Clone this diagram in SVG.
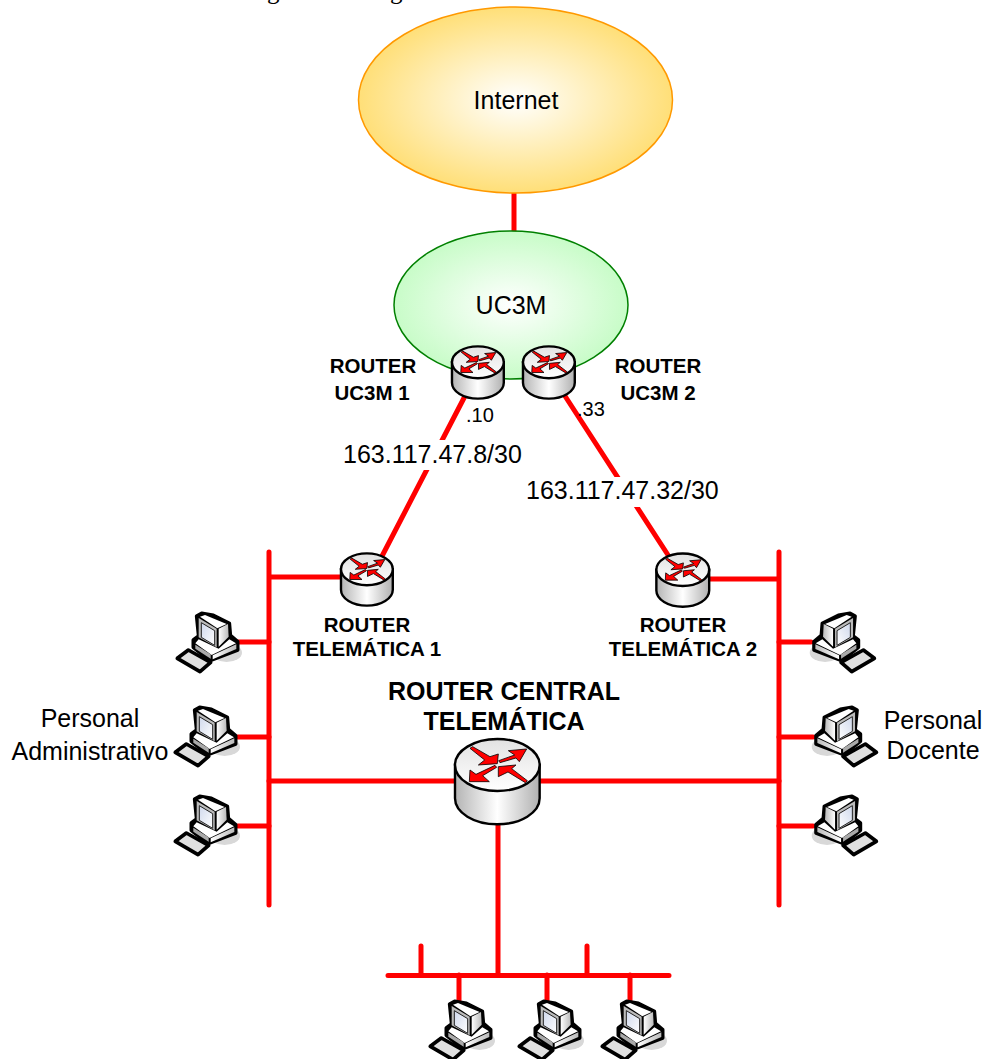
<svg xmlns="http://www.w3.org/2000/svg" width="983" height="1059" viewBox="0 0 983 1059">
<style>
text{font-family:"Liberation Sans",Arial,sans-serif;fill:#000}
.r{font-size:25px}
.m{text-anchor:middle}
.b{font-size:20.5px;font-weight:bold;text-anchor:middle}
.bl{font-size:25px;font-weight:bold;text-anchor:middle}
.s{font-size:20px}
.t{font-family:"Liberation Serif","Times New Roman",serif;font-size:25px}
.w{stroke:#f00;stroke-width:5;fill:none;stroke-linecap:round}
.o{stroke:#000;stroke-width:2.4;vector-effect:non-scaling-stroke}
.a{fill:#f00;stroke:#000;stroke-width:.8;vector-effect:non-scaling-stroke}
</style>
<defs>
<radialGradient id="gi"><stop offset="0" stop-color="#fff"/><stop offset="1" stop-color="#ffdf78"/></radialGradient>
<radialGradient id="gu"><stop offset="0" stop-color="#fff"/><stop offset="1" stop-color="#c8fcc8"/></radialGradient>
<linearGradient id="gs"><stop offset="0" stop-color="#b4b4b4"/><stop offset=".5" stop-color="#fff"/><stop offset="1" stop-color="#b0b0b0"/></linearGradient>
<linearGradient id="gt" x1="0" y1="0" x2="0" y2="1"><stop offset="0" stop-color="#e2e2e2"/><stop offset="1" stop-color="#fff"/></linearGradient>
<linearGradient id="gc" x1="0" y1="0" x2="1" y2="1"><stop offset="0" stop-color="#cfd8ec"/><stop offset="1" stop-color="#fff"/></linearGradient>
<linearGradient id="gb"><stop offset="0" stop-color="#fff"/><stop offset="1" stop-color="#bbb"/></linearGradient>
<g id="router">
<path class="o" d="M45 105V205A127 78 0 0 0 299 205V105Z" fill="url(#gs)"/>
<ellipse class="o" cx="172" cy="105" rx="127" ry="78" fill="url(#gt)"/>
<polygon class="a" points="90,55 98,50 150,80 175,72 172,101 115,105 134,90"/>
<polygon class="a" points="180,98 176,92 224,75 205,62 260,57 238,95 228,84"/>
<polygon class="a" points="262,152 256,158 204,126 175,140 175,110 228,105 215,116"/>
<polygon class="a" points="165,106 170,112 128,137 148,155 88,155 90,120 108,133"/>
</g>
<g id="pc">
<ellipse cx="200" cy="158" rx="46" ry="28" fill="#d8d8d8"/>
<polygon points="110,48 125,40 160,46 208,70 211,106 233,125 233,150 150,182 100,142 100,120 116,108" fill="#000" stroke="#000" stroke-width="11" stroke-linejoin="round"/>
<polygon points="120,50 135,45 200,72 172,85" fill="#fff"/>
<polygon points="116,54 170,86 170,142 116,112" fill="#bbb"/>
<polygon points="124,68 164,92 164,136 124,112" fill="url(#gc)" stroke="#222" stroke-width="3"/>
<polygon points="176,86 204,72 206,110 176,140" fill="url(#gb)"/>
<polygon points="176,146 208,118 228,130 155,165 106,130 116,118" fill="#fff"/>
<polygon points="106,134 152,163 152,176 106,146" fill="#aaa"/>
<polygon points="158,166 229,133 229,147 158,178" fill="url(#gb)"/>
<polygon points="52,175 85,150 152,187 120,215" fill="#e0e0e0" stroke="#000" stroke-width="11" stroke-linejoin="round"/>
</g>
</defs>
<text class="t" x="267" y="-1">g</text>
<text class="t" x="390" y="-1">g</text>
<g id="connectors">
<path class="w" d="M514 192V231M465 396L380 560M565 396L668 555"/>
<path class="w" d="M269 552V905M779 552V905M269 577H342M708 579H779"/>
<path class="w" d="M238 642H269M238 737H269M238 826H269M779 642H811M779 737H813M779 826H813"/>
<path class="w" d="M269 781H455M540 781H779M498 825V975M388 975.5H669M421 946V975M587 946V975M459 975V1000M547 975V1000M630 975V1000"/>
</g>
<g id="internet"><ellipse cx="515.5" cy="100" rx="157" ry="93" fill="url(#gi)" stroke="#f90" stroke-width="1.5"/><text class="r m" x="516" y="109">Internet</text></g>
<g id="uc3m"><ellipse cx="511" cy="305" rx="117" ry="74" fill="url(#gu)" stroke="#008000" stroke-width="1.5"/><text class="r m" x="511" y="314">UC3M</text></g>
<g id="router-uc3m-1"><use href="#router" transform="translate(442.8 340.9) scale(.204)"/><text class="b" x="373" y="373">ROUTER</text><text class="b" x="372" y="400">UC3M 1</text><text class="s" x="466" y="422">.10</text></g>
<g id="router-uc3m-2"><use href="#router" transform="translate(513.8 340.9) scale(.204)"/><text class="b" x="658" y="373">ROUTER</text><text class="b" x="658" y="400">UC3M 2</text><text class="s" x="577" y="416">.33</text></g>
<g id="router-telematica-1"><use href="#router" transform="translate(331.8 547.9) scale(.204)"/><text class="b" x="367" y="632">ROUTER</text><text class="b" x="367" y="656">TELEMÁTICA 1</text></g>
<g id="router-telematica-2"><use href="#router" transform="translate(647 547.9) scale(.208)"/><text class="b" x="683" y="632">ROUTER</text><text class="b" x="683" y="656">TELEMÁTICA 2</text></g>
<g id="router-central"><use href="#router" transform="translate(440 730) scale(.3333)"/><text class="bl" x="504" y="700">ROUTER CENTRAL</text><text class="bl" x="504" y="730">TELEMÁTICA</text></g>
<g id="link-label-1"><rect x="341" y="440" width="184" height="30" fill="#fff"/><text class="r" x="343" y="463">163.117.47.8/30</text></g>
<g id="link-label-2"><rect x="524" y="477" width="198" height="30" fill="#fff"/><text class="r" x="526" y="499">163.117.47.32/30</text></g>
<g id="pc-l1"><use href="#pc" transform="translate(160 600) scale(.3333)"/></g>
<g id="pc-l2"><use href="#pc" transform="translate(158 694) scale(.3333)"/></g>
<g id="pc-l3"><use href="#pc" transform="translate(158 783) scale(.3333)"/></g>
<g id="pc-r1"><use href="#pc" transform="translate(891.7 600) scale(-.3333 .3333)"/></g>
<g id="pc-r2"><use href="#pc" transform="translate(893.7 694) scale(-.3333 .3333)"/></g>
<g id="pc-r3"><use href="#pc" transform="translate(893.7 783) scale(-.3333 .3333)"/></g>
<g id="pc-b1"><use href="#pc" transform="translate(413 988) scale(.3333)"/></g>
<g id="pc-b2"><use href="#pc" transform="translate(502 988) scale(.3333)"/></g>
<g id="pc-b3"><use href="#pc" transform="translate(585 988) scale(.3333)"/></g>
<g id="label-adm"><text class="r m" x="90" y="727">Personal</text><text class="r m" x="90" y="760">Administrativo</text></g>
<g id="label-doc"><text class="r m" x="933" y="729">Personal</text><text class="r m" x="933" y="759">Docente</text></g>
</svg>
